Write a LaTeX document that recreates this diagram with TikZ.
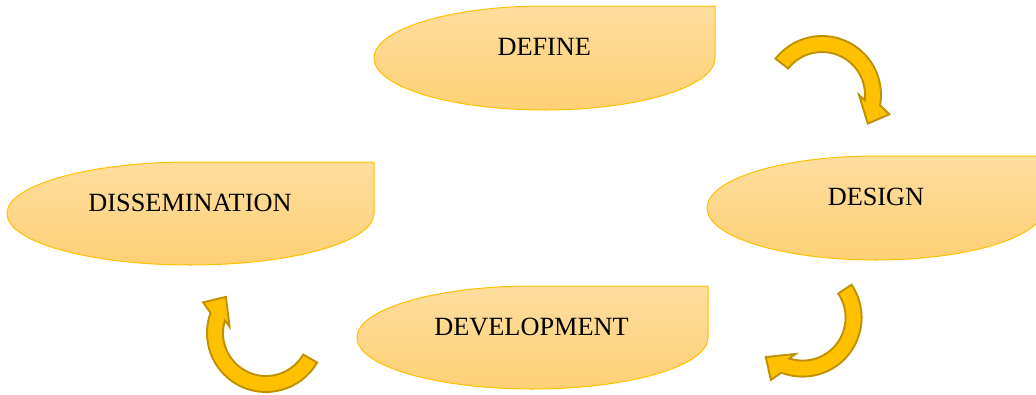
\documentclass[tikz,border=0pt]{standalone}
\usepackage{fontspec}
\setmainfont{Liberation Serif}
\definecolor{phasetop}{RGB}{254,221,158}
\definecolor{phasebot}{RGB}{254,208,118}
\definecolor{phaseline}{RGB}{255,192,0}
\definecolor{arrowfill}{RGB}{255,192,0}
\definecolor{arrowline}{RGB}{191,144,0}
\newcommand\phaseshape[4]{%
  \draw[phase] (#1,-#2+#4) arc[start angle=90,end angle=270,x radius=#3,y radius=#4]
    arc[start angle=270,end angle=360,x radius=#3,y radius=#4] -- (#1+#3,-#2+#4) -- cycle;}
\newcommand\cyclearrow[4]{%
  \begin{scope}[shift={(#1,-#2)}]
    \draw[cycarrow] (#3:59) arc[start angle=#3,end angle=#4,radius=59]
      -- (#4-6:70) -- (#4-22:54) -- (#4+10:37) -- (#4+3:43)
      arc[start angle=#4+3,end angle=#3,radius=43] -- cycle;
  \end{scope}}
\begin{document}
\begin{tikzpicture}[x=1pt,y=1pt,
  phase/.style={draw=phaseline,line width=1pt,top color=phasetop,bottom color=phasebot},
  cycarrow/.style={fill=arrowfill,draw=arrowline,line width=1.9pt,line join=miter},
  phasetext/.style={font=\fontsize{26.3}{30}\selectfont,text=black,inner sep=0pt}]
\useasboundingbox (0,0) rectangle (1036,-394);
% phase shapes
\phaseshape{544.5}{58}{170.5}{52}
\phaseshape{875.5}{208}{168.5}{52}
\phaseshape{532.5}{337.5}{175.5}{51.5}
\phaseshape{190.5}{213.5}{183.5}{51.5}
% labels
\node[phasetext] (define) at (544.3,-47) {DEFINE};
\node[phasetext] (design) at (876,-196.7) {DESIGN};
\node[phasetext] (development) at (531.5,-326.7) {DEVELOPMENT};
\node[phasetext] (dissemination) at (190,-203) {DISSEMINATION};
% curved arrows
\cyclearrow{822}{95}{142}{-10}
\cyclearrow{802.6}{317.6}{34}{-111}
\cyclearrow{266}{333}{-30}{-200}
\end{tikzpicture}
\end{document}
